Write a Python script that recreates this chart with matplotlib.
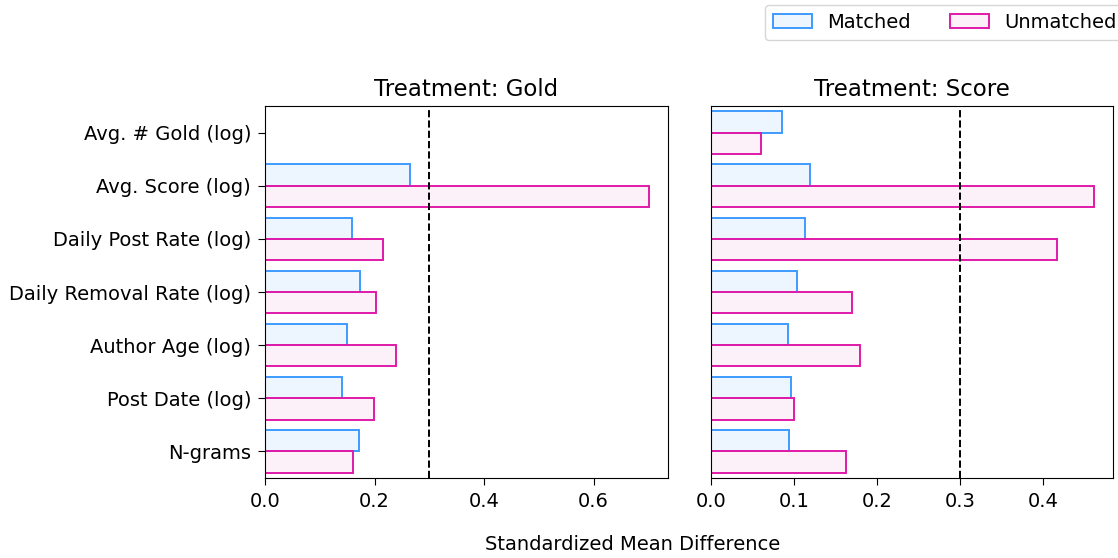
import numpy as np
import matplotlib.pyplot as plt

# covariates, top to bottom
covariates = ['Avg. # Gold (log)', 'Avg. Score (log)', 'Daily Post Rate (log)',
              'Daily Removal Rate (log)', 'Author Age (log)', 'Post Date (log)', 'N-grams']

# standardized mean differences, treatment = gold
gold_matched = [0.0, 0.265, 0.158, 0.174, 0.149, 0.140, 0.172]
gold_unmatched = [0.0, 0.701, 0.216, 0.202, 0.240, 0.199, 0.161]

# treatment = score
score_matched = [0.086, 0.119, 0.113, 0.103, 0.093, 0.096, 0.094]
score_unmatched = [0.060, 0.461, 0.417, 0.170, 0.180, 0.100, 0.162]

threshold = 0.3

blue = '#3d9bff'
pink = '#e01aa8'

fig = plt.figure(figsize=(11.18, 5.58), dpi=100)
ax1 = fig.add_axes([265/1118, 1-478/558, 403/1118, 372/558])
ax2 = fig.add_axes([711/1118, 1-478/558, 402/1118, 372/558])

y = np.arange(len(covariates))
h = 0.4

for ax, m, u, title in [(ax1, gold_matched, gold_unmatched, 'Treatment: Gold'),
                        (ax2, score_matched, score_unmatched, 'Treatment: Score')]:
    ax.barh(y - h/2, m, height=h, facecolor=(0.24, 0.61, 1.0, 0.09),
            edgecolor=blue, linewidth=1.4, label='Matched')
    ax.barh(y + h/2, u, height=h, facecolor=(0.88, 0.10, 0.66, 0.06),
            edgecolor=pink, linewidth=1.4, label='Unmatched')
    ax.axvline(threshold, color='black', linestyle='--', linewidth=1.4)
    ax.set_ylim(len(covariates) - 0.5, -0.5)
    ax.set_xlim(0, max(max(m), max(u)) * 1.05)
    ax.set_title(title, fontsize=16.5, pad=7)
    ax.tick_params(labelsize=14, length=5, pad=5)

ax1.set_yticks(y)
ax1.set_yticklabels(covariates)
ax1.set_xticks([0.0, 0.2, 0.4, 0.6])
ax2.set_yticks([])
ax2.set_xticks([0.0, 0.1, 0.2, 0.3, 0.4])

fig.text(633/1118, 1-545/558, 'Standardized Mean Difference', ha='center', va='center', fontsize=14)

handles, labels = ax1.get_legend_handles_labels()
fig.legend(handles, labels, loc='upper left', bbox_to_anchor=(765/1118, 1-5/558),
           ncol=2, fontsize=14, handlelength=2.0, columnspacing=2.0,
           borderaxespad=0.0)

plt.savefig('out.png')
